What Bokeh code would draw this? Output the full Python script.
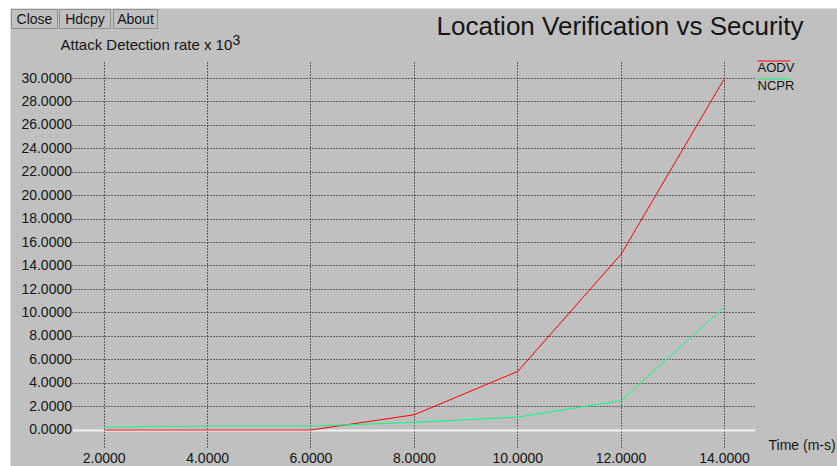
from bokeh.plotting import figure
from bokeh.models import Range1d, FixedTicker, Grid, Label, BoxAnnotation, ColumnDataSource
from bokeh.core.properties import value
from bokeh.embed import file_html
from bokeh.resources import INLINE

# ---- data ----
time_ms = [2, 4, 6, 8, 10, 12, 14]
aodv = [0.0, 0.0, 0.0, 1.3, 5.0, 15.0, 30.0]
ncpr = [0.25, 0.33, 0.33, 0.65, 1.1, 2.5, 10.5]
x_ticks = [2, 4, 6, 8, 10, 12, 14]
y_ticks = [0, 2, 4, 6, 8, 10, 12, 14, 16, 18, 20, 22, 24, 26, 28, 30]
series_names = ["AODV", "NCPR"]
series_colors = ["#ff0000", "#00ff7f"]
title_text = "Location Verification vs Security"
y_title = "Attack Detection rate x 10"
x_title = "Time (m-s)"
buttons = ["Close", "Hdcpy", "About"]

FONT = "Liberation Sans"
BG = "#c0c0c0"
TXT = "#151515"

W, H = 837, 466
# pixel geometry of the data area (page pixels)
PX2, PX_PER_X = 103.7, 51.69      # pixel of x=2, pixels per x unit
PY0, PY_PER_Y = 429.5, 11.72      # pixel of y=0, pixels per y unit


def dx(px):
    return 2 + (px - PX2) / PX_PER_X


def dy(py):
    return (PY0 - py) / PY_PER_Y


p = figure(width=W, height=H, output_backend="svg", toolbar_location=None,
           x_range=Range1d(dx(0), dx(W)), y_range=Range1d(dy(H), dy(0)),
           x_axis_location=None, y_axis_location=None, min_border=0)
p.background_fill_color = "white"
p.border_fill_color = "white"
p.outline_line_color = None
p.grid.visible = False


def box(l, t, r, b, **kw):
    p.add_layout(BoxAnnotation(left=l, right=r, top=H - t, bottom=H - b,
                               left_units="screen", right_units="screen",
                               top_units="screen", bottom_units="screen", **kw))


# grey window area
box(10, 8, W, H, fill_color=BG, fill_alpha=1, line_color=None, level="image")

xb = (dx(72), dx(755))
yb = (dy(447), dy(60))
p.add_layout(Grid(dimension=0, ticker=FixedTicker(ticks=x_ticks), cross_bounds=yb,
                  grid_line_color="black", grid_line_dash="1 2", grid_line_alpha=1))
p.add_layout(Grid(dimension=1, ticker=FixedTicker(ticks=y_ticks), cross_bounds=xb,
                  grid_line_color="black", grid_line_dash="1 2", grid_line_alpha=1))
p.add_layout(Grid(dimension=1, ticker=FixedTicker(ticks=[0]), cross_bounds=xb,
                  grid_line_color="#f2f2f2", grid_line_width=2))

# tick labels
ysrc = ColumnDataSource(dict(x=[dx(71.5)] * len(y_ticks),
                             y=[v + 0.8 / PY_PER_Y for v in y_ticks],
                             t=["%.4f" % v for v in y_ticks]))
p.text(x="x", y="y", text="t", source=ysrc, text_font=value(FONT), text_font_size="14px",
       text_color=TXT, text_align="right", text_baseline="middle")
xsrc = ColumnDataSource(dict(x=x_ticks, y=[dy(457.5)] * len(x_ticks),
                             t=["%.4f" % v for v in x_ticks]))
p.text(x="x", y="y", text="t", source=xsrc, text_font=value(FONT), text_font_size="14px",
       text_color=TXT, text_align="center", text_baseline="middle")

p.line(time_ms, aodv, line_color=series_colors[0], line_width=1)
p.line(time_ms, ncpr, line_color=series_colors[1], line_width=1)


def lab(text, px, py, size, align="left", baseline="middle", **kw):
    p.add_layout(Label(x=px, y=H - py, x_units="screen", y_units="screen",
                       text=text, text_font=FONT, text_font_size=size,
                       text_color=TXT, text_align=align, text_baseline=baseline, **kw))


# title
lab(title_text, 436, 25, "26px")
# axis titles
lab(y_title, 60, 43.5, "15px")
lab("3", 232, 39.5, "14px")
lab(x_title, 768, 444.5, "14px")

# legend
leg_y = [60, 78]
leg_mid = [67, 85]
for name, col, ly, lm in zip(series_names, series_colors, leg_y, leg_mid):
    box(757, ly, 790, ly + 1, fill_color=col, fill_alpha=1, line_color=None)
    lab(name, 757, lm, "13px")

# buttons
btn_l = [11, 59, 113]
btn_r = [57, 110, 157]
for b, l, r in zip(buttons, btn_l, btn_r):
    box(l, 9, r, 28, fill_alpha=0, line_color="#202020", line_width=1)
    lab(b, (l + r) / 2, 18, "14px", align="center")

open("out.html", "w").write(file_html(p, INLINE))
